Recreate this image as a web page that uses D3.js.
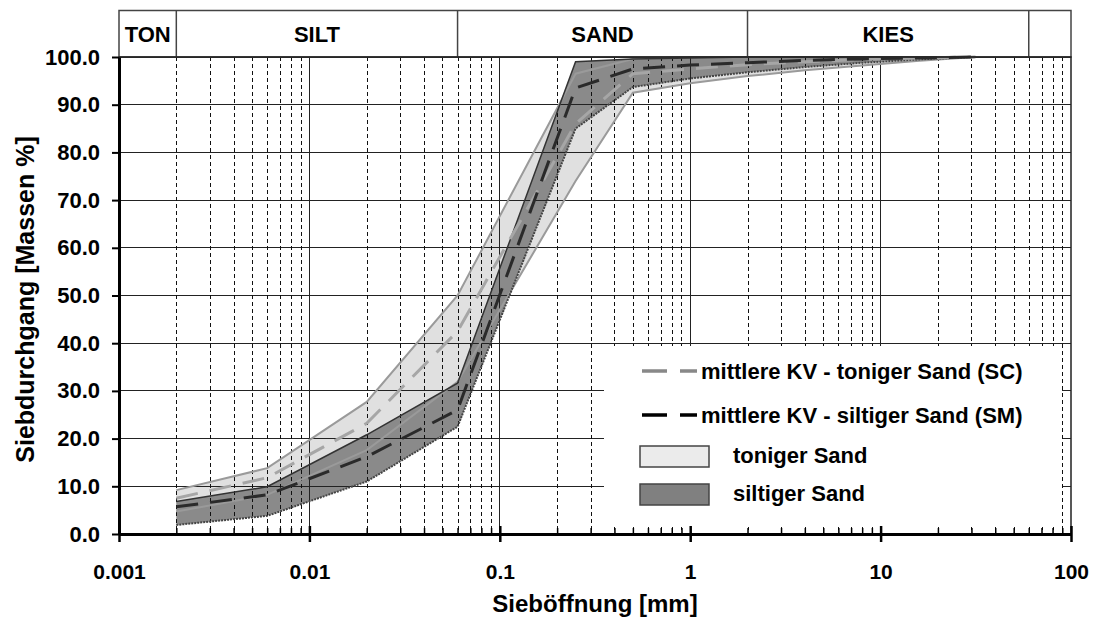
<!DOCTYPE html>
<html>
<head>
<meta charset="utf-8">
<script src="https://cdn.jsdelivr.net/npm/d3@7"></script>
<style>
    body { margin: 0; background: #fff; }
    text { font-family: "Liberation Sans", Arial, sans-serif; font-weight: bold; fill: #000; }
</style>
</head>
<body>
<div id="chart"></div>
<script>
// Korngrößen (mm) und Siebdurchgang (%)
const sizes = [0.002, 0.006, 0.02, 0.06, 0.25, 0.5, 1, 2, 4, 8, 16, 31.5];
const tonigerUpper = [9.2, 13.8, 27.7, 50.0, 96.5, 99.6, 100, 100, 100, 100, 100, 100];
const tonigerLower = [4.7, 8.2, 17.6, 31.9, 74.0, 92.5, 94.5, 96.0, 97.2, 98.2, 99.2, 100];
const siltigerUpper = [6.8, 9.9, 20.8, 31.6, 99.0, 99.6, 99.8, 100, 100, 100, 100, 100];
const siltigerLower = [1.9, 3.8, 11.0, 22.5, 85.0, 93.7, 95.5, 96.8, 97.9, 98.8, 99.5, 100];
const meanSC = [7.5, 11.8, 23.2, 42.5, 86.0, 96.5, 97.5, 98.4, 99.0, 99.5, 99.8, 100];
const meanSM = [5.7, 8.2, 16.2, 26.0, 93.5, 97.5, 98.3, 98.8, 99.3, 99.6, 99.8, 100];

const yTicks = [0, 10, 20, 30, 40, 50, 60, 70, 80, 90, 100];
const xTicks = [0.001, 0.01, 0.1, 1, 10, 100];
const xTickLabels = ["0.001", "0.01", "0.1", "1", "10", "100"];
const zoneNames = ["TON", "SILT", "SAND", "KIES", ""];
const zoneBounds = [0.001, 0.002, 0.06, 2, 60, 100];

const legendLabels = ["mittlere KV - toniger Sand (SC)", "mittlere KV - siltiger Sand (SM)", "toniger Sand", "siltiger Sand"];

const width = 1093;
const height = 619;
const padding = {top: 57, right: 22, bottom: 85, left: 119};

const x = d3.scaleLog()
    .domain([0.001, 100])
    .range([padding.left, width - padding.right]);

const y = d3.scaleLinear()
    .domain([0, 100])
    .range([height - padding.bottom, padding.top]);

const svg = d3.select('#chart')
    .append('svg')
    .attr('width', width)
    .attr('height', height);

// minor values for the log grid
const minor = [];
for (let e = -3; e < 2; e++) {
    for (let k = 2; k <= 9; k++) {
        minor.push(k * Math.pow(10, e));
    }
}

const bandData = (hi, lo) => sizes.map((s, i) => ({s: s, hi: hi[i], lo: lo[i]}));

const area = d3.area()
    .x(d => x(d.s))
    .y0(d => y(d.lo))
    .y1(d => y(d.hi));

const lineHi = d3.line().x(d => x(d.s)).y(d => y(d.hi));
const lineLo = d3.line().x(d => x(d.s)).y(d => y(d.lo));

const tonData = bandData(tonigerUpper, tonigerLower);
const silData = bandData(siltigerUpper, siltigerLower);

// bands
svg.append('path')
    .datum(tonData)
    .attr('fill', '#e0e0e0')
    .attr('d', area);

svg.append('path')
    .datum(silData)
    .attr('fill', '#8a8a8a')
    .attr('d', area);

// grid
svg.append('g')
    .attr('shape-rendering', 'crispEdges')
    .selectAll('line')
    .data(yTicks.slice(1))
    .enter()
    .append('line')
    .attr('x1', padding.left)
    .attr('x2', width - padding.right)
    .attr('y1', d => y(d))
    .attr('y2', d => y(d))
    .attr('stroke', '#222')
    .attr('stroke-width', 1);

svg.append('g')
    .attr('shape-rendering', 'crispEdges')
    .selectAll('line')
    .data(minor)
    .enter()
    .append('line')
    .attr('x1', d => Math.round(x(d)) + 0.5)
    .attr('x2', d => Math.round(x(d)) + 0.5)
    .attr('y1', padding.top)
    .attr('y2', height - padding.bottom)
    .attr('stroke', '#111')
    .attr('stroke-width', 1)
    .attr('stroke-dasharray', '4,3');

svg.append('g')
    .attr('shape-rendering', 'crispEdges')
    .selectAll('line')
    .data(xTicks.slice(1, -1))
    .enter()
    .append('line')
    .attr('x1', d => x(d))
    .attr('x2', d => x(d))
    .attr('y1', padding.top)
    .attr('y2', height - padding.bottom)
    .attr('stroke', '#222')
    .attr('stroke-width', 1);

// band outlines
[lineHi, lineLo].forEach(function (ln) {
    svg.append('path')
        .datum(tonData)
        .attr('fill', 'none')
        .attr('stroke', '#9a9a9a')
        .attr('stroke-width', 2)
        .attr('d', ln);
});
svg.append('path')
    .datum(silData)
    .attr('fill', 'none')
    .attr('stroke', '#333')
    .attr('stroke-width', 1.5)
    .attr('d', lineHi);
svg.append('path')
    .datum(silData)
    .attr('fill', 'none')
    .attr('stroke', '#444')
    .attr('stroke-width', 2)
    .attr('stroke-dasharray', '2,1')
    .attr('d', lineLo);

// mean lines
const meanLine = d3.line().x(d => x(d[0])).y(d => y(d[1]));

svg.append('path')
    .datum(sizes.map((s, i) => [s, meanSC[i]]))
    .attr('fill', 'none')
    .attr('stroke', '#a6a6a6')
    .attr('stroke-width', 3)
    .attr('stroke-dasharray', '22,12')
    .attr('d', meanLine);

svg.append('path')
    .datum(sizes.map((s, i) => [s, meanSM[i]]))
    .attr('fill', 'none')
    .attr('stroke', '#2a2a2a')
    .attr('stroke-width', 3)
    .attr('stroke-dasharray', '22,12')
    .attr('d', meanLine);

// legend
const lg = svg.append('g');
lg.append('rect')
    .attr('x', 604)
    .attr('y', 346)
    .attr('width', 458)
    .attr('height', 181)
    .attr('fill', '#fff');

[['#888', 371], ['#000', 415]].forEach(function (d, i) {
    lg.append('line')
        .attr('x1', 642)
        .attr('x2', 697)
        .attr('y1', d[1])
        .attr('y2', d[1])
        .attr('stroke', d[0])
        .attr('stroke-width', 3.5)
        .attr('stroke-dasharray', '25,13');
    lg.append('text')
        .attr('x', 701)
        .attr('y', d[1] + 8)
        .attr('font-size', 22)
        .text(legendLabels[i]);
});

[['#ebebeb', 446], ['#808080', 484]].forEach(function (d, i) {
    lg.append('rect')
        .attr('x', 640)
        .attr('y', d[1])
        .attr('width', 69)
        .attr('height', 21)
        .attr('fill', d[0])
        .attr('stroke', '#444')
        .attr('stroke-width', 1.5);
    lg.append('text')
        .attr('x', 733)
        .attr('y', d[1] + 17)
        .attr('font-size', 22)
        .text(legendLabels[i + 2]);
});

// header with soil classes
const hdr = svg.append('g');
hdr.append('rect')
    .attr('x', padding.left)
    .attr('y', 10.5)
    .attr('width', width - padding.right - padding.left)
    .attr('height', padding.top - 10.5)
    .attr('fill', 'none')
    .attr('stroke', '#444')
    .attr('stroke-width', 1.5);

hdr.selectAll('line')
    .data(zoneBounds.slice(1, -1))
    .enter()
    .append('line')
    .attr('x1', d => x(d))
    .attr('x2', d => x(d))
    .attr('y1', 10.5)
    .attr('y2', padding.top)
    .attr('stroke', '#444')
    .attr('stroke-width', 1.5);

hdr.selectAll('text')
    .data(zoneNames)
    .enter()
    .append('text')
    .attr('x', (d, i) => (x(zoneBounds[i]) + x(zoneBounds[i + 1])) / 2)
    .attr('y', 42)
    .attr('text-anchor', 'middle')
    .attr('font-size', 22)
    .text(d => d);

// plot frame (top/right)
svg.append('path')
    .attr('d', `M${padding.left},${padding.top}H${width - padding.right}V${height - padding.bottom}`)
    .attr('fill', 'none')
    .attr('stroke', '#222')
    .attr('stroke-width', 1.5);

// axes
const yAxis = d3.axisLeft(y)
    .tickValues(yTicks)
    .tickFormat(d3.format('.1f'))
    .tickSizeInner(7)
    .tickSizeOuter(0)
    .tickPadding(12);

const gy = svg.append('g')
    .attr('transform', `translate(${padding.left},0)`)
    .call(yAxis);
gy.select('.domain').attr('stroke', '#000').attr('stroke-width', 3);
gy.selectAll('.tick line').attr('stroke', '#000').attr('stroke-width', 2);
gy.selectAll('.tick text')
    .attr('font-size', 22)
    .attr('font-family', '"Liberation Sans", Arial, sans-serif')
    .attr('font-weight', 'bold')
    .attr('fill', '#000');

const xMinor = d3.axisBottom(x)
    .tickValues(minor)
    .tickFormat('')
    .tickSizeInner(-6)
    .tickSizeOuter(0);

const gxm = svg.append('g')
    .attr('transform', `translate(0,${height - padding.bottom})`)
    .call(xMinor);
gxm.select('.domain').remove();
gxm.selectAll('.tick line').attr('stroke', '#000').attr('stroke-width', 1.5);

const xAxis = d3.axisBottom(x)
    .tickValues(xTicks)
    .tickFormat((d, i) => xTickLabels[i])
    .tickSizeInner(8)
    .tickSizeOuter(0)
    .tickPadding(22);

const gx = svg.append('g')
    .attr('transform', `translate(0,${height - padding.bottom})`)
    .call(xAxis);
gx.select('.domain').attr('stroke', '#000').attr('stroke-width', 3);
gx.selectAll('.tick line')
    .attr('y1', -8)
    .attr('stroke', '#000')
    .attr('stroke-width', 2.5);
gx.selectAll('.tick text')
    .attr('font-size', 21)
    .attr('font-family', '"Liberation Sans", Arial, sans-serif')
    .attr('font-weight', 'bold')
    .attr('fill', '#000');

// axis titles
svg.append('text')
    .attr('transform', `translate(34,${(padding.top + height - padding.bottom) / 2 + 4}) rotate(-90)`)
    .attr('text-anchor', 'middle')
    .attr('font-size', 25)
    .text('Siebdurchgang [Massen %]');

svg.append('text')
    .attr('x', (padding.left + width - padding.right) / 2)
    .attr('y', 612)
    .attr('text-anchor', 'middle')
    .attr('font-size', 24)
    .text('Sieböffnung [mm]');
</script>
</body>
</html>
